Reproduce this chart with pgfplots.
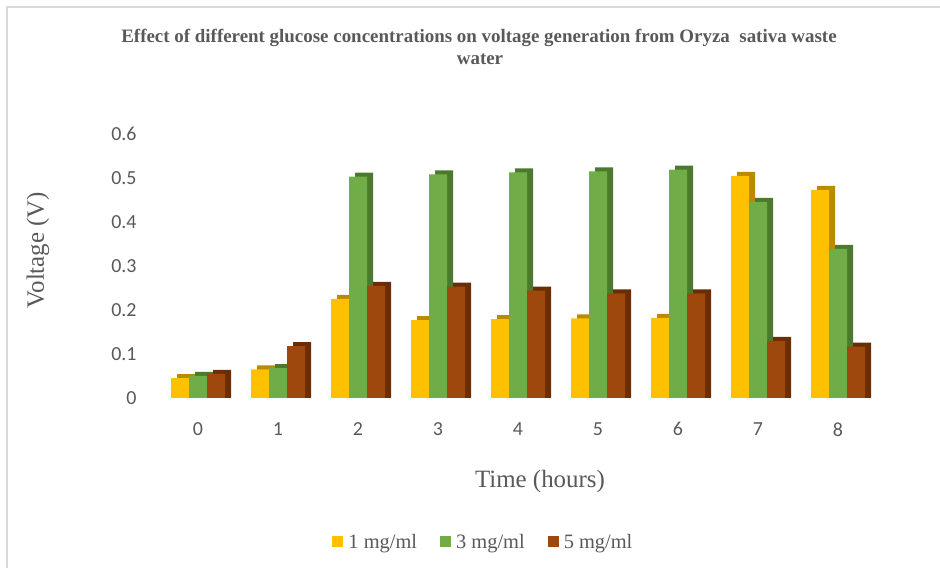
\documentclass[border=0pt]{standalone}
\usepackage{pgfplots}
\pgfplotsset{compat=1.18}
\usepackage{pgfplotstable}
\usepackage{fontspec}
\setmainfont{Liberation Serif}
\newfontfamily\tickfont{Carlito}
\definecolor{tgray}{HTML}{595959}
\definecolor{frameg}{HTML}{D9D9D9}
\definecolor{cY}{HTML}{FFC000}
\definecolor{cYd}{HTML}{B98B00}
\definecolor{cG}{HTML}{70AD47}
\definecolor{cGd}{HTML}{4B7A2E}
\definecolor{cB}{HTML}{9E480E}
\definecolor{cBd}{HTML}{6A2E07}
\pgfplotstableread{
t a b c
0 0.045 0.050 0.055
1 0.065 0.068 0.118
2 0.225 0.503 0.255
3 0.177 0.508 0.253
4 0.179 0.513 0.244
5 0.181 0.515 0.238
6 0.182 0.519 0.238
7 0.505 0.446 0.130
8 0.473 0.339 0.117
}\data
\begin{document}
\begin{tikzpicture}[x=1bp,y=1bp]
\path[use as bounding box] (0,0) rectangle (940,568);
\draw[frameg, line width=2bp] (7,0) -- (7,561) -- (940,561);
\node[font=\bfseries\fontsize{19}{22}\selectfont, text=tgray] at (479,530) {Effect of different glucose concentrations on voltage generation from Oryza\ \ sativa waste};
\node[font=\bfseries\fontsize{19}{22}\selectfont, text=tgray] at (480,509) {water};
\node[font=\fontsize{25}{30}\selectfont, text=tgray, rotate=90] at (38,318) {Voltage (V)};
\node[font=\fontsize{25}{30}\selectfont, text=tgray] at (540,86) {Time (hours)};
\begin{axis}[
  at={(158bp,170bp)}, anchor=south west,
  scale only axis, width=720bp, height=264bp,
  xmin=-0.5, xmax=8.5, ymin=0, ymax=0.6,
  ybar, bar width=18bp,
  axis lines=left, axis line style={draw=none,-},
  major tick length=0pt,
  xtick={0,1,2,3,4,5,6,7,8},
  ytick={0,0.1,0.2,0.3,0.4,0.5,0.6},
  yticklabels={0,0.1,0.2,0.3,0.4,0.5,0.6},
  ticklabel style={font=\tickfont\fontsize{20}{24}\selectfont, text=tgray},
  /pgf/number format/assume math mode=true,
  yticklabel style={xshift=-18bp},
  xticklabel style={yshift=-21bp},
  legend style={at={(0.452,-0.545)}, anchor=center, draw=none,
    font=\fontsize{20.5}{24}\selectfont, text=tgray, legend columns=3,
    /tikz/every odd column/.append style={column sep=0bp},
    /tikz/every even column/.append style={column sep=21bp}},
  legend image code/.code={\fill[#1] (0bp,-5bp) rectangle (11bp,6bp); \path (14bp,0bp);},
]
\addplot[fill=cYd, draw=none, bar shift=-12bp, forget plot] table[x=t, y expr=\thisrow{a}+0.0091]{\data};
\addplot[fill=cY, draw=none, bar shift=-18bp] table[x=t, y=a]{\data};
\addlegendentry{1 mg/ml}
\addplot[fill=cGd, draw=none, bar shift=6bp, forget plot] table[x=t, y expr=\thisrow{b}+0.0091]{\data};
\addplot[fill=cG, draw=none, bar shift=0bp] table[x=t, y=b]{\data};
\addlegendentry{3 mg/ml}
\addplot[fill=cBd, draw=none, bar shift=24bp, forget plot] table[x=t, y expr=\thisrow{c}+0.0091]{\data};
\addplot[fill=cB, draw=none, bar shift=18bp] table[x=t, y=c]{\data};
\addlegendentry{5 mg/ml}
\end{axis}
\end{tikzpicture}
\end{document}
